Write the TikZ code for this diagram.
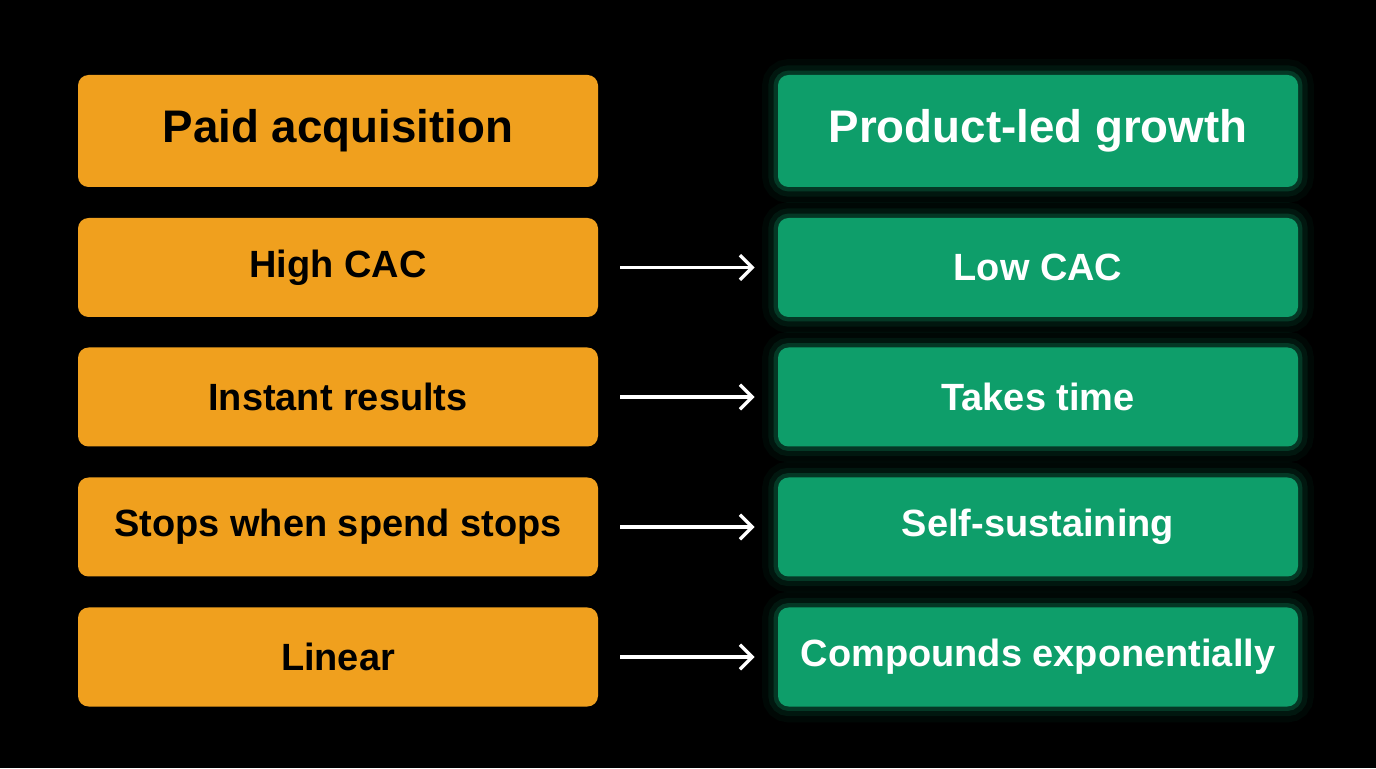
\documentclass[tikz,border=0pt]{standalone}
\usepackage{fontspec}
\setmainfont{Liberation Sans}
\usetikzlibrary{arrows.meta}
\definecolor{paid}{HTML}{F0A01E}
\definecolor{plg}{HTML}{0E9E6A}
\begin{document}
\begin{tikzpicture}
        \tikzstyle{box_style} = [rounded corners=6pt, minimum width=10.4cm, minimum height=1.98cm, font=\bfseries\fontsize{21.6}{24}\selectfont, inner sep=0pt]
        \tikzstyle{left_style} = [box_style, fill=paid, text=black]
        \tikzstyle{right_style} = [box_style, fill=plg, text=white,
            preaction={draw=plg, line width=18pt, opacity=0.05},
            preaction={draw=plg, line width=11pt, opacity=0.1},
            preaction={draw=plg, line width=5pt, opacity=0.25}]
        \tikzstyle{head_style} = [minimum height=2.24cm, font=\bfseries\fontsize{26}{30}\selectfont]
        \tikzstyle{arrow_style} = [-{Straight Barb[length=7pt, width=14pt]}, white, line width=1.9pt, shorten <=0.44cm, shorten >=0.46cm]

        \fill[black] (0,0) rectangle (27.52,15.36);

        % Headers
        \node[left_style, head_style] (l0) at (6.76,12.74) {Paid acquisition};
        \node[right_style, head_style] (r0) at (20.76,12.74) {Product-led growth};

        % Left column
        \node[left_style] (l1) at (6.76,10.01) {High CAC};
        \node[left_style] (l2) at (6.76,7.42) {Instant results};
        \node[left_style] (l3) at (6.76,4.82) {Stops when spend stops};
        \node[left_style] (l4) at (6.76,2.22) {Linear};

        % Right column
        \node[right_style] (r1) at (20.76,10.01) {Low CAC};
        \node[right_style] (r2) at (20.76,7.42) {Takes time};
        \node[right_style] (r3) at (20.76,4.82) {Self-sustaining};
        \node[right_style] (r4) at (20.76,2.22) {Compounds exponentially};

        \foreach \i in {1,...,4}
            \draw[arrow_style] (l\i) -- (r\i);
\end{tikzpicture}
\end{document}
